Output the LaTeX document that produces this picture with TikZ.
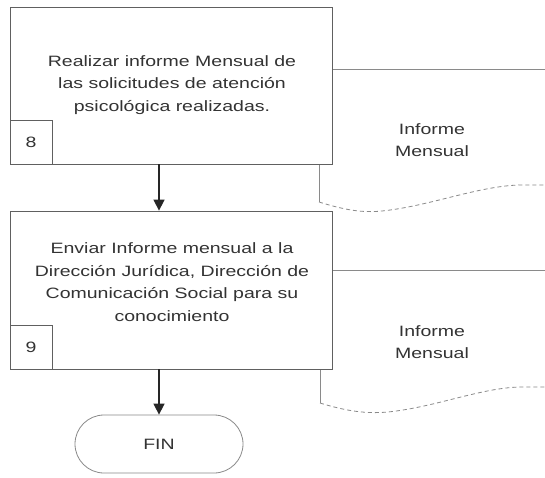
\documentclass[tikz,border=0pt]{standalone}
\usepackage{fontspec}
\setmainfont[FakeStretch=1.3]{Liberation Sans}
\usetikzlibrary{arrows.meta,calc}
\definecolor{boxgray}{HTML}{606060}
\definecolor{docgray}{HTML}{8A8A8A}
\definecolor{txtgray}{HTML}{333333}
\begin{document}
\begin{tikzpicture}[x=1pt,y=-1pt,
  box/.style={draw=boxgray,line width=0.8pt,inner sep=0pt},
  txt/.style={text=txtgray,font=\fontsize{15}{22.5}\selectfont,align=center,inner sep=0pt},
  numbox/.style={box,text=txtgray,font=\fontsize{15}{18}\selectfont,minimum width=42pt,minimum height=44pt,anchor=south west},
  docline/.style={draw=docgray,line width=0.7pt},
  wave/.style={draw=docgray,line width=0.8pt,dash pattern=on 4pt off 3pt},
  arr/.style={draw=black!85,line width=1.5pt,-{Triangle[width=11pt,length=11pt]}},
  finbox/.style={draw=docgray,line width=0.8pt,rounded corners=29pt,minimum width=168pt,minimum height=58pt,inner sep=0pt,text=txtgray,font=\fontsize{15}{18}\selectfont}]
\useasboundingbox[fill=white] (0,0) rectangle (545,477);
% document 1
\draw[docline] (332,69) -- (545,69);
\draw[docline] (319,164) -- (319,202);
\draw[wave] (319,202) .. controls (345,210) and (362,213) .. (382,211)
  .. controls (430,206) and (478,186) .. (520,185) -- (545,185);
\node[txt] (d1) at (432,140) {Informe\\Mensual};
% document 2
\draw[docline] (332,270) -- (545,270);
\draw[docline] (320,369) -- (320,403);
\draw[wave] (320,403) .. controls (346,411) and (366,414) .. (388,412)
  .. controls (436,407) and (480,388) .. (520,387) -- (545,387);
\node[txt] (d2) at (432,342) {Informe\\Mensual};
% box 8
\node[box,fill=white,minimum width=322pt,minimum height=157pt] (b8) at (171,85.5) {};
\node[txt] (t8) at (172,85) {Realizar informe Mensual de\\las solicitudes de atención\\psicológica realizadas.};
\node[numbox] (n8) at (b8.south west) {8};
% box 9
\node[box,fill=white,minimum width=322pt,minimum height=158pt] (b9) at (171,290) {};
\node[txt] (t9) at (172,282) {Enviar Informe mensual a la\\Dirección Jurídica, Dirección de\\Comunicación Social para su\\conocimiento};
\node[numbox] (n9) at (b9.south west) {9};
% FIN
\node[finbox] (fin) at (159,444) {FIN};
% arrows
\draw[arr] (b8.south -| fin.north) -- (b9.north -| fin.north);
\draw[arr] (b9.south -| fin.north) -- (fin.north);
\end{tikzpicture}
\end{document}
